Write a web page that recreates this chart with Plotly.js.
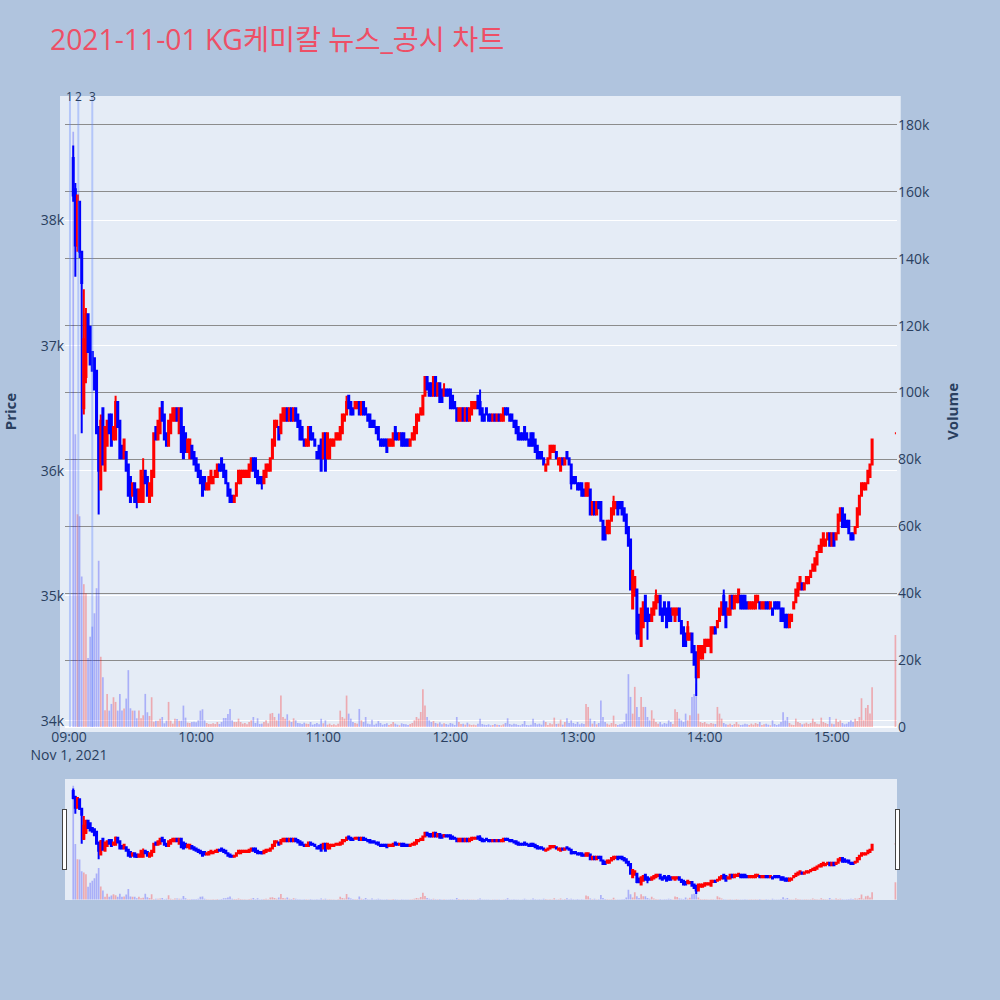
<!DOCTYPE html>
<html><head><meta charset="utf-8">
<script src="https://cdn.plot.ly/plotly-3.0.1.min.js"></script>
<style>body{margin:0;background:#B0C4DE}</style>
</head><body><div id="chart" style="width:1000px;height:1000px"></div>
<script>
const tradeDate = '2021-11-01';
const firstMinute = 2;          // first candle 09:02
const closingAuction = '15:30';

const opens = [
38500,38250,37800,38150,37750,36500,36750,37250,37150,36950,
36900,36800,36350,35850,36500,36000,36200,36450,36450,36250,
36250,36550,36400,36200,36100,36150,36050,35950,35800,35900,
35850,35750,35750,35750,36000,35950,35750,35800,35950,36350,
36250,36300,36550,36450,36300,36200,36300,36400,36400,36500,
36300,36500,36350,36300,36150,36100,36200,36150,36100,36050,
36000,35950,35950,35850,35850,35900,35900,35950,35950,36050,
36100,36050,36000,35900,35850,35800,35750,
35800,35900,35900,35950,35950,35950,35950,36000,36100,36100,
36000,35950,35950,35900,35950,36000,36000,36100,36200,36350,
36350,36300,36400,36400,36500,36400,36500,36400,36500,36450,
36400,36350,36250,36200,36200,36350,36300,36250,36150,36200,
36250,36100,36300,36100,36100,36200,36200,36250,36250,36250,
36300,36400,36450,36600,36550,36500,36500,36500,36550,36450,
36550,36500,36450,36450,36400,36400,36350,36350,36250,36250,
36250,36250,36200,36200,36200,36350,36300,36250,36300,36300,
36250,36250,36200,36250,36250,36300,36400,36450,36450,36600,
36750,36700,36700,36600,36750,36600,36700,36650,36600,36650,
36650,36650,36600,36550,36500,36400,36400,36500,36400,36500,
36400,36450,36500,36500,36600,36550,36500,36450,36500,36450,
36450,36400,36450,36400,36450,36400,36400,36500,36500,36450,36450,
36400,36400,36350,36300,36300,36350,36300,36250,36300,36300,36250,
36200,36150,36150,36100,36000,36050,36100,36150,36150,36150,
36050,36000,36100,36050,36150,36100,36050,
35950,35950,35900,35900,35900,35850,35800,35800,
35850,35650,35750,35650,35750,35750,35600,35550,35500,35500,
35600,35650,35700,35750,35750,35750,35700,35650,35550,35450,
34900,35000,35050,34850,34600,34750,35000,34900,34850,34800,
34850,34900,34950,35000,34900,34950,34900,34950,34900,34850,
34800,34850,34900,34800,34750,34700,34650,34650,34700,34600,
34550,34350,34500,34500,34550,34600,34600,34550,34700,34750,
34750,34800,34850,35000,34950,34850,34850,35000,34900,34950,
34950,35000,35000,35000,
34950,34900,34900,34900,34900,34950,34950,34900,34900,34950,
34950,34900,34900,34950,34950,34950,34900,34900,34850,34850,
34750,34800,34900,34950,35000,35050,35100,35050,35100,35100,
35150,35200,35200,35250,35350,35350,35400,35400,35450,35500,
35400,35500,35450,35500,35600,35700,35650,35600,35600,35500,
35500,35500,35550,35650,35800,35850,35850,35900,35950,36050,
36300
];
const highs = [
38600,38300,38200,38150,37750,37450,37300,37250,37150,36950,
36900,36800,36350,36450,36500,36350,36400,36450,36450,36350,
36600,36550,36400,36200,36250,36150,36050,35950,35900,35900,
35850,35850,36000,36100,36000,35950,35900,36000,36300,36350,
36400,36500,36550,36450,36300,36400,36450,36500,36500,36500,
36500,36500,36350,36300,36250,36250,36200,36150,36100,36050,
36000,35950,35950,35900,35950,36000,35950,36000,36050,36050,
36100,36050,36000,35900,35850,35800,35800,
35900,36000,36000,36000,36000,36000,36050,36100,36100,36100,
36000,35950,35950,36000,36050,36050,36100,36250,36400,36400,
36350,36450,36500,36500,36500,36500,36500,36500,36500,36450,
36400,36350,36250,36250,36350,36350,36300,36250,36150,36200,
36250,36300,36300,36300,36250,36250,36250,36300,36300,36350,
36450,36450,36600,36600,36550,36500,36550,36550,36550,36550,
36550,36500,36450,36450,36400,36400,36350,36350,36250,36250,
36250,36250,36250,36250,36300,36350,36300,36300,36300,36300,
36250,36250,36250,36300,36350,36450,36450,36500,36600,36750,
36750,36700,36700,36750,36750,36700,36700,36650,36700,36650,
36650,36650,36600,36550,36500,36500,36500,36500,36500,36500,
36500,36550,36550,36550,36600,36650,36500,36450,36500,36450,
36450,36450,36450,36450,36450,36450,36500,36500,36500,36450,36450,
36400,36400,36350,36300,36300,36350,36300,36250,36300,36300,36250,
36200,36150,36150,36100,36050,36100,36200,36200,36200,36150,
36100,36100,36100,36100,36150,36100,36050,
35950,35950,35900,35900,35900,35850,35900,35900,
35850,35750,35750,35750,35750,35750,35600,35550,35600,35600,
35700,35800,35750,35750,35750,35750,35700,35650,35550,35450,
35200,35150,35050,34850,34900,34950,35000,34900,34850,34900,
34950,35050,35000,35000,34900,34950,34900,34950,34900,34900,
34900,34900,34900,34800,34750,34700,34800,34700,34700,34600,
34550,34600,34600,34600,34650,34650,34650,34750,34750,34750,
34800,34900,34950,35050,34950,34900,35000,35000,35000,35000,
35050,35000,35000,35000,
34950,34950,34950,34950,35000,35000,34950,34950,34950,34950,
34950,34950,34900,34950,34950,34950,34900,34900,34850,34850,
34850,34850,34950,35050,35100,35150,35100,35100,35150,35150,
35200,35250,35300,35350,35400,35450,35500,35450,35500,35500,
35500,35500,35500,35650,35700,35700,35650,35600,35600,35500,
35500,35550,35700,35800,35900,35900,35900,36000,36050,36250,
36300
];
const lows = [
38150,37550,37750,37700,36300,36450,36700,36950,36850,36800,
36650,36300,35650,35850,36050,36000,36200,36300,36200,36250,
36250,36350,36100,36100,36100,36000,35800,35750,35800,35750,
35700,35750,35750,35750,35900,35800,35750,35800,35950,36250,
36250,36300,36400,36250,36200,36200,36300,36400,36400,36400,
36300,36150,36100,36150,36150,36100,36100,36050,36000,35950,
35900,35800,35850,35850,35850,35900,35900,35950,35950,36000,
36000,35950,35900,35800,35750,35750,35750,
35800,35900,35900,35950,35950,35950,35950,36000,36000,35950,
35900,35900,35850,35900,35950,36000,36000,36100,36200,36350,
36250,36300,36400,36400,36400,36400,36400,36400,36400,36350,
36250,36250,36200,36200,36200,36250,36250,36200,36100,36100,
36000,36100,36000,36100,36100,36200,36200,36250,36250,36250,
36300,36400,36450,36500,36450,36450,36500,36500,36450,36450,
36450,36450,36400,36350,36350,36350,36300,36250,36200,36200,
36200,36150,36200,36200,36200,36250,36250,36250,36200,36200,
36200,36200,36200,36250,36250,36300,36400,36450,36450,36600,
36650,36600,36600,36600,36600,36600,36550,36550,36600,36600,
36600,36500,36500,36500,36400,36400,36400,36400,36400,36400,
36400,36450,36500,36500,36500,36450,36400,36400,36450,36400,
36400,36400,36400,36400,36400,36400,36400,36450,36450,36400,36400,
36350,36300,36250,36250,36250,36250,36250,36200,36200,36200,36150,
36100,36100,36100,36050,36000,36050,36100,36150,36150,36100,
36050,36000,36050,36050,36100,36050,35850,
35900,35900,35850,35850,35800,35800,35800,35800,
35650,35650,35650,35650,35700,35600,35450,35450,35500,35500,
35600,35650,35700,35650,35700,35650,35600,35500,35400,35050,
34900,35000,34650,34650,34600,34750,34800,34650,34800,34800,
34850,34900,34950,34850,34800,34850,34750,34800,34800,34850,
34800,34850,34800,34700,34600,34600,34650,34650,34550,34450,
34200,34350,34500,34500,34550,34600,34600,34550,34700,34700,
34750,34800,34850,34850,34750,34850,34850,34900,34900,34950,
34950,34900,34900,34900,
34900,34900,34900,34900,34900,34950,34900,34900,34900,34900,
34900,34900,34850,34900,34900,34900,34800,34800,34750,34750,
34750,34800,34900,34950,35000,35050,35050,35050,35100,35100,
35150,35200,35200,35250,35350,35350,35400,35400,35450,35400,
35400,35400,35450,35500,35600,35550,35550,35550,35500,35450,
35450,35500,35550,35650,35800,35850,35850,35900,35950,36050,
36300
];
const closes = [
38200,37800,38200,37750,37500,37050,37250,36950,36850,36800,
36650,36300,36000,36400,36050,36350,36400,36300,36200,36350,
36550,36350,36100,36100,36250,36000,35800,35750,35900,35750,
35750,35850,36000,35950,35900,35800,35900,36000,36300,36250,
36400,36500,36400,36250,36200,36400,36450,36500,36500,36400,
36500,36150,36100,36150,36250,36250,36100,36050,36000,35950,
35900,35800,35850,35900,35950,36000,35950,36000,36050,36000,
36000,35950,35900,35800,35750,35750,35800,
35900,36000,36000,36000,36000,36000,36050,36100,36000,35950,
35900,35900,35900,36000,36050,36050,36100,36250,36400,36400,
36250,36450,36500,36500,36400,36500,36400,36500,36400,36350,
36250,36250,36200,36250,36350,36250,36250,36200,36100,36100,
36000,36300,36000,36300,36250,36250,36250,36300,36300,36350,
36450,36450,36550,36500,36450,36450,36550,36550,36450,36550,
36450,36450,36400,36350,36350,36350,36300,36250,36200,36200,
36200,36150,36250,36250,36300,36250,36250,36300,36200,36200,
36200,36200,36250,36300,36350,36450,36450,36500,36600,36750,
36650,36600,36600,36750,36600,36700,36550,36550,36650,36600,
36600,36500,36500,36500,36400,36500,36500,36400,36500,36400,
36500,36550,36550,36550,36500,36450,36400,36400,36450,36400,
36400,36450,36400,36450,36400,36450,36500,36450,36450,36400,36400,
36350,36300,36250,36250,36250,36250,36250,36200,36200,36200,36150,
36100,36100,36100,36050,36050,36100,36200,36200,36200,36100,
36100,36100,36050,36100,36100,36050,35900,
35900,35900,35850,35850,35800,35800,35900,35900,
35650,35750,35650,35750,35700,35600,35450,35450,35600,35600,
35700,35750,35750,35650,35700,35650,35600,35500,35400,35050,
35200,35150,34700,34700,34900,34950,34800,34800,34800,34900,
34950,35000,35000,34850,34800,34850,34750,34800,34800,34900,
34900,34900,34800,34700,34600,34600,34750,34700,34550,34450,
34350,34600,34600,34600,34650,34650,34650,34750,34750,34700,
34800,34900,34950,34850,34750,34900,35000,34900,35000,35000,
35050,34900,34900,34900,
34900,34950,34950,34950,35000,35000,34900,34950,34950,34900,
34900,34950,34850,34900,34900,34900,34800,34800,34750,34750,
34850,34850,34950,35050,35100,35150,35050,35100,35150,35150,
35200,35250,35300,35350,35400,35450,35500,35450,35500,35400,
35500,35400,35500,35650,35700,35550,35550,35550,35500,35450,
35450,35550,35700,35800,35900,35900,35900,36000,36050,36250,
36300
];
const volumes = [
178000,87500,63600,63000,45000,42700,40000,20600,27000,30000,
34000,41500,49700,21000,14900,5000,9900,4900,6900,8900,
7500,4900,9900,4900,5500,8500,17000,5600,4900,4900,
2600,4900,2600,3500,9900,4400,3300,8900,1600,1900,
1900,2500,3000,1100,1900,7500,1900,1000,2500,2400,
1900,1900,6400,2800,1300,1200,1500,1600,1400,2000,
4900,5300,2000,1200,900,900,1100,900,1500,900,
1500,2700,2700,3900,5400,2000,1500,
1500,2500,1500,1000,1200,800,1500,2000,3000,1200,
2600,900,1000,1500,2000,1100,4000,4200,3000,2000,
4000,9400,3000,2500,3800,2000,1500,2600,2000,1200,
1100,900,1300,1000,900,1500,700,900,1200,800,
2500,1100,2000,700,1000,600,800,500,1000,4900,
3000,2500,9400,4000,2500,1500,1200,1000,5400,2000,
1500,3000,1000,800,2200,700,1000,1800,1200,700,
900,1100,600,900,1500,1000,700,500,1100,900,
800,600,900,1200,2000,3000,2500,4500,11300,6400,
3000,2000,1500,1800,1200,1000,1400,800,1100,900,
700,1200,1000,600,3000,1500,900,1000,700,1300,
800,600,700,500,1000,2500,900,700,600,800,
500,600,900,700,600,500,800,1200,2600,900,700,
1000,800,600,500,900,1800,600,500,700,2500,1200,
800,1000,700,2000,1500,600,1100,800,2800,900,
1000,2200,700,1500,2600,1200,2000,
1200,900,1500,800,1100,900,6900,6000,
2500,1000,1800,800,1200,7900,3000,1500,1000,700,
1200,3400,900,600,800,1000,1500,4000,15800,9000,
4000,12000,6000,3000,9000,6000,6000,3000,2000,5000,
2500,1500,1000,1500,800,1200,1000,2000,1500,900,
5300,4500,2500,2000,1500,4000,2000,3500,9000,9900,
13000,4000,1500,1200,1500,1000,800,1200,1000,900,
6000,4000,2500,1200,800,700,1000,600,900,1500,
800,600,700,1000,
800,600,1000,700,1200,900,1500,600,800,1000,
700,500,2000,900,600,800,1500,4400,2000,3000,
1200,700,600,2500,1500,1200,800,1000,1300,900,
1200,2500,1500,1000,800,2800,1500,1200,900,3000,
1000,800,2500,1500,2000,1200,800,1000,1500,2000,
1500,2500,1800,3000,8600,2000,5700,6600,4000,11900,
27500
];
const newsTimes = ['09:00:28', '09:04:24', '09:11:00'];
const newsLabels = ['1', '2', '3'];

const pad = n => String(n).padStart(2, '0');
const times = [];
for (let i = 0; i < opens.length - 1; i++) {
  const m = 9 * 60 + firstMinute + i;
  times.push(`${tradeDate} ${pad(Math.floor(m / 60))}:${pad(m % 60)}`);
}
times.push(`${tradeDate} ${closingAuction}`);

const volColors = closes.map((c, i) => c >= opens[i] ? 'rgba(255,0,0,0.28)' : 'rgba(0,0,255,0.26)');

const traces = [
  {
    type: 'candlestick', x: times, open: opens, high: highs, low: lows, close: closes,
    increasing: {line: {color: '#FF0000'}, fillcolor: '#FF0000'},
    decreasing: {line: {color: '#0000FF'}, fillcolor: '#0000FF'},
    yaxis: 'y', name: 'Price', hoverinfo: 'skip'
  },
  {
    type: 'bar', x: times, y: volumes, yaxis: 'y2', name: 'Volume',
    marker: {color: volColors, line: {width: 0}}, hoverinfo: 'skip'
  }
];

const xRange = [`${tradeDate} 08:58:07`, `${tradeDate} 15:30:45`];

const layout = {
  width: 1000, height: 1000,
  paper_bgcolor: '#B0C4DE', plot_bgcolor: '#E5ECF6',
  font: {family: '"Open Sans", "Noto Sans CJK KR", sans-serif', size: 14, color: '#2a3f5f'},
  title: {text: `${tradeDate} KG케미칼 뉴스_공시 차트`, x: 0.05, xanchor: 'left', y: 0.96, yanchor: 'middle',
          font: {size: 28.3, color: '#EE4F66'}},
  margin: {l: 65, r: 103, t: 96, b: 100},
  showlegend: false,
  bargap: 0.2,
  xaxis: {
    type: 'date', range: xRange, showgrid: false, zeroline: false,
    rangeslider: {visible: true, range: xRange, bgcolor: '#E5ECF6', thickness: 0.15, borderwidth: 0}
  },
  yaxis: {
    title: {text: 'Price', font: {size: 15, weight: 'bold'}, standoff: 24},
    range: [33952, 38995], gridcolor: 'white', zeroline: false
  },
  yaxis2: {
    title: {text: 'Volume', font: {size: 15, weight: 'bold'}, standoff: 18},
    overlaying: 'y', side: 'right', range: [0, 188657],
    gridcolor: '#8c8c8c', zerolinecolor: 'white', zerolinewidth: 2
  },
  shapes: [
    {type: 'rect', xref: 'paper', yref: 'paper', x0: -0.006, x1: 1.0045, y0: -0.008, y1: 1,
     fillcolor: '#E5ECF6', line: {width: 0}, layer: 'below'}
  ].concat(newsTimes.map(t => ({
    type: 'line', xref: 'x', yref: 'paper', x0: `${tradeDate} ${t}`, x1: `${tradeDate} ${t}`, y0: 0, y1: 1,
    line: {color: 'rgba(90,130,255,0.35)', width: 2}
  }))),
  annotations: newsTimes.map((t, i) => ({
    x: `${tradeDate} ${t}`, y: 1, xref: 'x', yref: 'paper', text: newsLabels[i],
    showarrow: false, yanchor: 'middle', font: {size: 12, color: '#2a3f5f'}
  }))
};

Plotly.newPlot('chart', traces, layout, {displayModeBar: false, staticPlot: true});
</script></body></html>
